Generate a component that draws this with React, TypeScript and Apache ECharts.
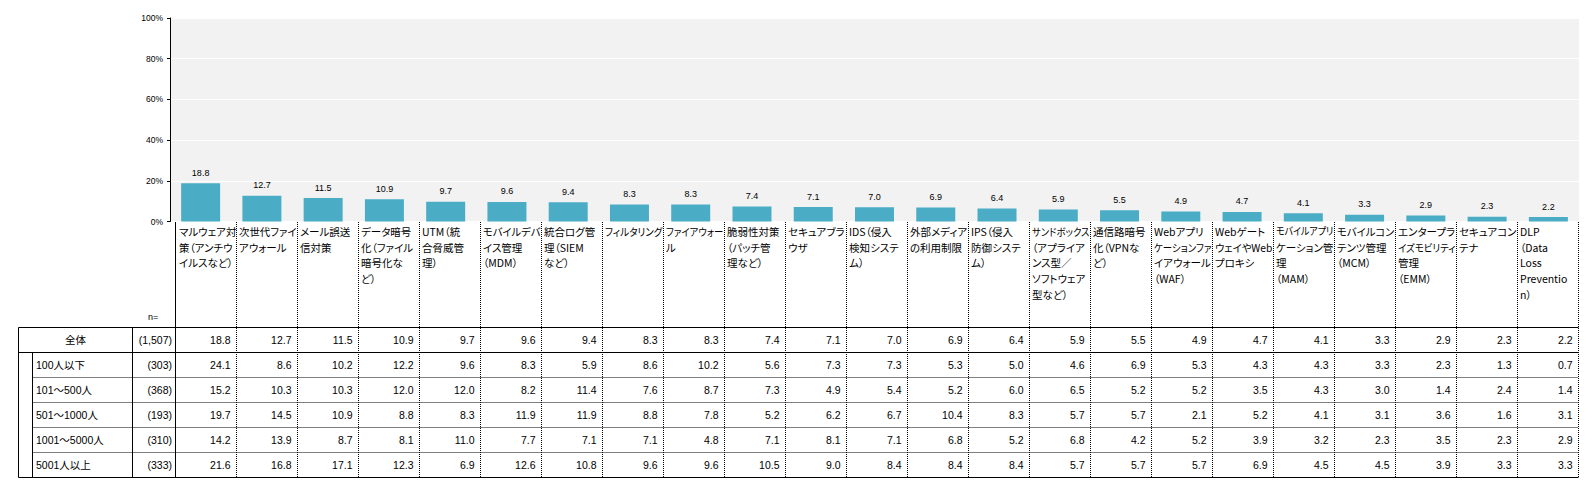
import React, { useEffect, useRef } from "react";
import * as echarts from "echarts";

// ---------- data ----------
const categories: string[] = [
  "マルウェア対\n策（アンチウ\nイルスなど）",
  "次世代ファイ\nアウォール",
  "メール誤送\n信対策",
  "データ暗号\n化（ファイル\n暗号化な\nど）",
  "UTM（統\n合脅威管\n理）",
  "モバイルデバ\nイス管理\n（MDM）",
  "統合ログ管\n理（SIEM\nなど）",
  "フィルタリング",
  "ファイアウォー\nル",
  "脆弱性対策\n（パッチ管\n理など）",
  "セキュアブラ\nウザ",
  "IDS（侵入\n検知システ\nム）",
  "外部メディア\nの利用制限",
  "IPS（侵入\n防御システ\nム）",
  "サンドボックス\n（アプライア\nンス型／\nソフトウェア\n型など）",
  "通信路暗号\n化（VPNな\nど）",
  "Webアプリ\nケーションファ\nイアウォール\n（WAF）",
  "Webゲート\nウェイやWeb\nプロキシ",
  "モバイルアプリ\nケーション管\n理\n（MAM）",
  "モバイルコン\nテンツ管理\n（MCM）",
  "エンタープラ\nイズモビリティ\n管理\n（EMM）",
  "セキュアコン\nテナ",
  "DLP\n（Data\nLoss\nPreventio\nn）",
];

const overallLabel = "全体";
const overallN = "(1,507)";
const overallValues: number[] = [
  18.8, 12.7, 11.5, 10.9, 9.7, 9.6, 9.4, 8.3, 8.3, 7.4, 7.1, 7.0, 6.9, 6.4, 5.9, 5.5, 4.9, 4.7, 4.1, 3.3, 2.9, 2.3, 2.2,
];

const groupLabels: string[] = ["100人以下", "101～500人", "501～1000人", "1001～5000人", "5001人以上"];
const groupNs: string[] = ["(303)", "(368)", "(193)", "(310)", "(333)"];

const group100: number[] = [24.1, 8.6, 10.2, 12.2, 9.6, 8.3, 5.9, 8.6, 10.2, 5.6, 7.3, 7.3, 5.3, 5.0, 4.6, 6.9, 5.3, 4.3, 4.3, 3.3, 2.3, 1.3, 0.7];
const group500: number[] = [15.2, 10.3, 10.3, 12.0, 12.0, 8.2, 11.4, 7.6, 8.7, 7.3, 4.9, 5.4, 5.2, 6.0, 6.5, 5.2, 5.2, 3.5, 4.3, 3.0, 1.4, 2.4, 1.4];
const group1000: number[] = [19.7, 14.5, 10.9, 8.8, 8.3, 11.9, 11.9, 8.8, 7.8, 5.2, 6.2, 6.7, 10.4, 8.3, 5.7, 5.7, 2.1, 5.2, 4.1, 3.1, 3.6, 1.6, 3.1];
const group5000: number[] = [14.2, 13.9, 8.7, 8.1, 11.0, 7.7, 7.1, 7.1, 4.8, 7.1, 8.1, 7.1, 6.8, 5.2, 6.8, 4.2, 5.2, 3.9, 3.2, 2.3, 3.5, 2.3, 2.9];
const group5001: number[] = [21.6, 16.8, 17.1, 12.3, 6.9, 12.6, 10.8, 9.6, 9.6, 10.5, 9.0, 8.4, 8.4, 8.4, 5.7, 5.7, 5.7, 6.9, 4.5, 4.5, 3.9, 3.3, 3.3];
const groupValues: number[][] = [group100, group500, group1000, group5000, group5001];

const nLabel = "n=";

// ---------- layout ----------
const W = 1592;
const H = 494;
const GRID_LEFT = 170;
const GRID_RIGHT_X = 1579;
const GRID_TOP = 18;
const GRID_BOTTOM_Y = 221.5;
const TABLE_L = 18.5;
const INDENT_X = 32.5;
const NCOL_X = 132.5;
const DATA_L = 175.5;
const DATA_R = 1578;
const TABLE_TOP = 327.5;
const ROW_H = 25;
const LABEL_TOP = 222;
const LABEL_LINE_H = 15.8;
const LABEL_MAX_W = 57.5;

const NUM_FONT = '"Liberation Sans", Arial, "Noto Sans CJK JP", sans-serif';
const JP_FONT = '"Noto Sans CJK JP", sans-serif';

function buildGraphic(widths: Record<string, number>): any[] {
  const els: any[] = [];
  const n = categories.length;
  const colW = (DATA_R - DATA_L) / n;
  const colX = (i: number) => Math.round(DATA_L + colW * i) + 0.5;
  const nRows = groupValues.length;
  const tableBottom = TABLE_TOP + ROW_H * (nRows + 1);
  const solid = { stroke: "#000", lineWidth: 1 };
  const dotted = { stroke: "#000", lineWidth: 1, lineDash: [1, 1] };
  let k = 0;
  const line = (x1: number, y1: number, x2: number, y2: number, style: any) =>
    els.push({ type: "line", id: "g" + k++, silent: true, shape: { x1, y1, x2, y2 }, style });
  const text = (t: string, x: number, y: number, align: string, font: string, size: number, extra: any = {}) =>
    els.push({
      type: "text",
      id: "g" + k++,
      silent: true,
      x,
      y,
      scaleX: extra.scaleX ?? 1,
      style: {
        text: t,
        x: 0,
        y: 0,
        align,
        textAlign: align,
        verticalAlign: extra.verticalAlign || "middle",
        textVerticalAlign: extra.verticalAlign || "middle",
        fontFamily: font,
        fontSize: size,
        fill: "#000",
      },
    });

  // vertical solid line at left of label area / data columns
  line(DATA_L, LABEL_TOP, DATA_L, tableBottom, solid);
  // dotted column separators
  for (let i = 1; i <= n; i++) {
    line(colX(i), LABEL_TOP, colX(i), tableBottom, dotted);
  }
  // horizontal solid borders
  line(TABLE_L, TABLE_TOP, DATA_R + 0.5, TABLE_TOP, solid);
  line(TABLE_L, TABLE_TOP + ROW_H, DATA_R + 0.5, TABLE_TOP + ROW_H, solid);
  line(TABLE_L, tableBottom, DATA_R + 0.5, tableBottom, solid);
  // dotted row separators
  for (let r = 1; r < nRows; r++) {
    const y = TABLE_TOP + ROW_H * (r + 1);
    line(INDENT_X, y, DATA_R + 0.5, y, dotted);
  }
  // vertical solid table lines
  line(TABLE_L, TABLE_TOP, TABLE_L, tableBottom, solid);
  line(INDENT_X, TABLE_TOP + ROW_H, INDENT_X, tableBottom, solid);
  line(NCOL_X, TABLE_TOP, NCOL_X, tableBottom, solid);

  // category labels, one text per wrapped line
  categories.forEach((c, i) => {
    c.split("\n").forEach((ln, j) => {
      const w = widths[ln] || 0;
      const s = w > LABEL_MAX_W ? LABEL_MAX_W / w : 1;
      text(ln, colX(i) + 2.5, LABEL_TOP + 9.2 + j * LABEL_LINE_H, "left", JP_FONT, 10.5, { scaleX: s });
    });
  });

  // n=
  text(nLabel, 148, 317, "left", NUM_FONT, 9);

  // overall row
  const oy = TABLE_TOP + ROW_H / 2;
  text(overallLabel, (TABLE_L + NCOL_X) / 2, oy, "center", NUM_FONT, 10.5);
  text(overallN, DATA_L - 3.5, oy, "right", NUM_FONT, 10.5);
  overallValues.forEach((v, i) => text(v.toFixed(1), colX(i + 1) - 6, oy, "right", NUM_FONT, 10.5));

  // group rows
  groupValues.forEach((vals, r) => {
    const y = TABLE_TOP + ROW_H * (r + 1) + ROW_H / 2;
    text(groupLabels[r], INDENT_X + 3.5, y, "left", NUM_FONT, 10.5);
    text(groupNs[r], DATA_L - 3.5, y, "right", NUM_FONT, 10.5);
    vals.forEach((v, i) => text(v.toFixed(1), colX(i + 1) - 6, y, "right", NUM_FONT, 10.5));
  });

  return els;
}

export default function App() {
  const ref = useRef<HTMLDivElement>(null);

  useEffect(() => {
    if (!ref.current) return;
    const chart = echarts.init(ref.current, undefined, { renderer: "svg", width: W, height: H });
    chart.setOption({
      animation: false,
      backgroundColor: "#ffffff",
      grid: {
        left: GRID_LEFT,
        top: GRID_TOP,
        width: GRID_RIGHT_X - GRID_LEFT,
        height: GRID_BOTTOM_Y - GRID_TOP,
        show: true,
        backgroundColor: "#f2f2f2",
        borderWidth: 0,
        containLabel: false,
      },
      xAxis: {
        type: "category",
        data: categories,
        boundaryGap: true,
        axisLine: { show: false },
        axisTick: { show: false },
        axisLabel: { show: false },
        splitLine: { show: false },
      },
      yAxis: {
        type: "value",
        min: 0,
        max: 100,
        interval: 20,
        axisLine: { show: true, lineStyle: { color: "#000", width: 1 } },
        axisTick: { show: true, length: 3, lineStyle: { color: "#000", width: 1 } },
        axisLabel: {
          formatter: "{value}%",
          fontSize: 8.5,
          fontFamily: NUM_FONT,
          color: "#000",
          margin: 7,
        },
        splitLine: { show: true, lineStyle: { color: "#ffffff", width: 1 } },
      },
      series: [
        {
          type: "bar",
          data: overallValues,
          barWidth: 39,
          itemStyle: { color: "#4bacc6" },
          label: {
            show: true,
            position: "top",
            distance: 6,
            fontSize: 9,
            fontFamily: NUM_FONT,
            color: "#000",
            formatter: (p: any) => Number(p.value).toFixed(1),
          },
        },
      ],
      graphic: buildGraphic({}),
    });

    // measure rendered label lines (with proportional kana) and squeeze any that overflow their cell
    const widths: Record<string, number> = {};
    try {
      ref.current.querySelectorAll("text").forEach((t) => {
        const c = t.textContent || "";
        const w = (t as SVGTextElement).getComputedTextLength();
        widths[c] = Math.max(widths[c] || 0, w);
      });
    } catch (e) {
      /* ignore */
    }
    chart.setOption({ graphic: buildGraphic(widths) });

    return () => chart.dispose();
  }, []);

  return (
    <>
      <style>{`.chart-root text { font-feature-settings: "palt" 1; }`}</style>
      <div
        ref={ref}
        className="chart-root"
        style={{ position: "fixed", left: 0, top: 0, width: W, height: H, background: "#fff" }}
      />
    </>
  );
}
